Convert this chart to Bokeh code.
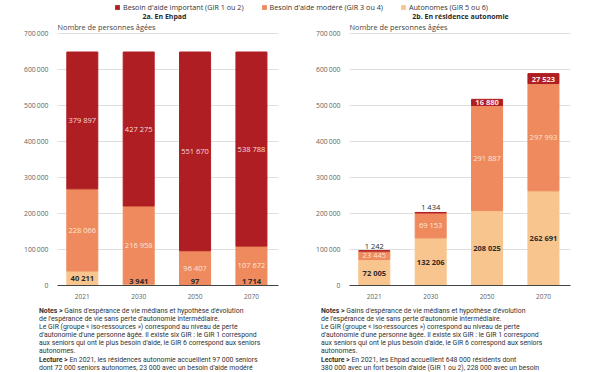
from bokeh.plotting import figure
from bokeh.layouts import column, row
from bokeh.models import ColumnDataSource, Range1d, FixedTicker, Label, Legend, LegendItem, Div
from bokeh.core.properties import value
from bokeh.embed import file_html
from bokeh.resources import INLINE

# ---------------- data ----------------
years = ["2021", "2030", "2050", "2070"]
series_names = ["Besoin d'aide important (GIR 1 ou 2)",
                "Besoin d'aide modéré (GIR 3 ou 4)",
                "Autonomes (GIR 5 ou 6)"]
ehpad_auto = [40211, 3941, 97, 1714]
ehpad_mod = [228066, 216958, 96407, 107672]
ehpad_imp = [379897, 427275, 551670, 538788]
res_auto = [72005, 132206, 208025, 262691]
res_mod = [23445, 69153, 291887, 297993]
res_imp = [1242, 1434, 16880, 27523]
y_ticks = [0, 100000, 200000, 300000, 400000, 500000, 600000, 700000]
y_tick_labels = ["0", "100\u2009000", "200\u2009000", "300\u2009000", "400\u2009000",
                 "500\u2009000", "600\u2009000", "700\u2009000"]
titles = ["2a. En Ehpad", "2b. En résidence autonomie"]
y_title = "Nombre de personnes âgées"

notes_common = [
    ("Notes &gt;", "Gains d'espérance de vie médians et hypothèse d'évolution"),
    ("", "de l'espérance de vie sans perte d'autonomie intermédiaire."),
    ("", "Le GIR (groupe « iso-ressources ») correspond au niveau de perte"),
    ("", "d'autonomie d'une personne âgée. Il existe six GIR : le GIR 1 correspond"),
    ("", "aux seniors qui ont le plus besoin d'aide, le GIR 6 correspond aux seniors"),
    ("", "autonomes."),
]
notes_left = notes_common + [
    ("Lecture &gt;", "En 2021, les résidences autonomie accueillent 97\u00a0000 seniors"),
    ("", "dont 72\u00a0000 seniors autonomes, 23\u00a0000 avec un besoin d'aide modéré"),
]
notes_right = notes_common + [
    ("Lecture &gt;", "En 2021, les Ehpad accueillent 648\u00a0000 résidents dont"),
    ("", "380\u00a0000 avec un fort besoin d'aide (GIR 1 ou 2), 228\u00a0000 avec un besoin"),
]

C_IMP = "#AF1E23"
C_MOD = "#EE8A5E"
C_AUTO = "#F9C58F"
FONT = "Open Sans"
TXT = "#2b2b2b"
GREY = "#5f5f5f"

TOTAL_W, TOTAL_H = 600, 372
LEG_H = 12                      # legend strip: y 0 .. 12
FRAME_H = 275                   # frame: y 12 .. 287 (x axis baseline)
BORDER_B = 14                   # room for the year labels
FIG_H = FRAME_H + BORDER_B      # chart figures: y 12 .. 301
NOTES_H = TOTAL_H - LEG_H - FIG_H
Y_END = 700000 * FRAME_H / 254.0  # 700 000 sits 254 px above the baseline


def fmt(v):
    return f"{v:,}".replace(",", " ")


def make_chart(title, auto, mod, imp, title_x, width, border_r):
    p = figure(width=width, height=FIG_H, x_range=Range1d(-0.44, 3.48), y_range=Range1d(0, Y_END),
               output_backend="svg", toolbar_location=None,
               min_border_left=57, min_border_right=border_r, min_border_top=0,
               min_border_bottom=BORDER_B)
    p.outline_line_color = None
    p.xgrid.visible = False
    p.ygrid.grid_line_color = "#dedede"
    p.ygrid.grid_line_width = 1
    p.ygrid.ticker = FixedTicker(ticks=y_ticks)

    src = ColumnDataSource(dict(x=list(range(len(years))), auto=auto, mod=mod, imp=imp))
    p.vbar_stack(["auto", "mod", "imp"], x="x", width=0.55, color=[C_AUTO, C_MOD, C_IMP], source=src)

    yax = p.yaxis[0]
    yax.ticker = FixedTicker(ticks=y_ticks)
    yax.major_label_overrides = {t: l for t, l in zip(y_ticks, y_tick_labels)}
    yax.axis_line_color = None
    yax.major_tick_line_color = None
    yax.minor_tick_line_color = None
    yax.major_label_standoff = 3
    yax.major_label_text_font = FONT
    yax.major_label_text_font_size = "6.8px"
    yax.major_label_text_color = GREY

    xax = p.xaxis[0]
    xax.ticker = FixedTicker(ticks=list(range(len(years))))
    xax.major_label_overrides = {i: y for i, y in enumerate(years)}
    xax.axis_line_color = "#444444"
    xax.axis_line_width = 1
    xax.major_tick_line_color = None
    xax.minor_tick_line_color = None
    xax.major_label_standoff = 2
    xax.major_label_text_font = FONT
    xax.major_label_text_font_size = "6.5px"
    xax.major_label_text_color = GREY

    groups = {}

    def add(key, x, y, t, yoff=0):
        groups.setdefault(key, dict(x=[], y=[], t=[], yo=[]))
        g = groups[key]
        g["x"].append(x); g["y"].append(y); g["t"].append(t); g["yo"].append(yoff)

    for i in range(len(years)):
        a, m, im = auto[i], mod[i], imp[i]
        ya = a / 2 if a >= 20000 else 12000
        add("dark_bold", i, ya, fmt(a))
        add("light_mod", i, a + m / 2, fmt(m))
        total = a + m + im
        if im < 5000:
            add("dark_above", i, total, fmt(im), -5)
        else:
            add("light_imp_bold" if im < 100000 else "light_imp", i, a + m + im / 2, fmt(im))

    styles = {
        "dark_bold": (TXT, "bold"),
        "light_mod": ("#fde6d8", "normal"),
        "dark_above": (TXT, "normal"),
        "light_imp": ("#f6dcdc", "normal"),
        "light_imp_bold": ("#fbeaea", "bold"),
    }
    for key, g in groups.items():
        col, st = styles[key]
        s = ColumnDataSource(dict(x=g["x"], y=g["y"], t=g["t"], yo=g["yo"]))
        p.text(x="x", y="y", text="t", y_offset="yo", source=s, text_align="center",
               text_baseline="middle", text_font=value(FONT), text_font_size="7.5px",
               text_color=col, text_font_style=st)

    p.add_layout(Label(x=title_x, y=FRAME_H - 6, x_units="screen", y_units="screen", text=title,
                       text_align="center", text_baseline="middle", text_font=FONT,
                       text_font_size="7px", text_font_style="bold", text_color=TXT))
    p.add_layout(Label(x=0, y=FRAME_H - 16.5, x_units="screen", y_units="screen", text=y_title,
                       text_align="left", text_baseline="middle", text_font=FONT,
                       text_font_size="7.3px", text_color="#444444"))
    return p


def notes_div(lines, pad_left, width):
    rows = "".join(
        f'<div style="height:8.1px;line-height:8.1px;white-space:nowrap;">'
        + (f"<b>{b}</b> {t}" if b else t) + "</div>"
        for b, t in lines)
    inner = (f'<div style="font-family:Roboto;font-size:6.9px;color:#333;'
             f'padding:6px 0 0 {pad_left}px;height:{NOTES_H}px;box-sizing:border-box;'
             f'overflow:hidden;width:{width}px;">{rows}</div>')
    return Div(text=inner, width=width, height=NOTES_H, margin=0, styles={"overflow": "hidden"})


W1 = 292
W2 = TOTAL_W - W1
f1 = make_chart(titles[0], ehpad_auto, ehpad_mod, ehpad_imp, 107, W1, 14)
f2 = make_chart(titles[1], res_auto, res_mod, res_imp, 111, W2, W2 - 57 - 221)

# legend strip
L = figure(width=TOTAL_W, height=LEG_H, output_backend="svg", toolbar_location=None, min_border=0,
           x_range=Range1d(0, 1), y_range=Range1d(0, 1), x_axis_location=None, y_axis_location=None)
L.grid.visible = False
L.outline_line_color = None
rs = [L.vbar(x=[0.5], top=[0], bottom=[0], width=0.0, fill_color=c, line_color=None)
      for c in (C_IMP, C_MOD, C_AUTO)]
leg = Legend(items=[LegendItem(label=n, renderers=[r]) for n, r in zip(series_names, rs)],
             orientation="horizontal", location=(114, 0), glyph_width=6, glyph_height=6,
             label_height=8, label_width=10, label_standoff=3, spacing=17, padding=0, margin=0,
             border_line_color=None, background_fill_alpha=0, label_text_font=FONT,
             label_text_font_size="7.2px", label_text_color="#333333", label_text_baseline="middle")
L.add_layout(leg, "center")

layout = column(L, row(f1, f2), row(notes_div(notes_left, 39, W1), notes_div(notes_right, 29, W2)))
open("out.html", "w").write(file_html(layout, INLINE))
